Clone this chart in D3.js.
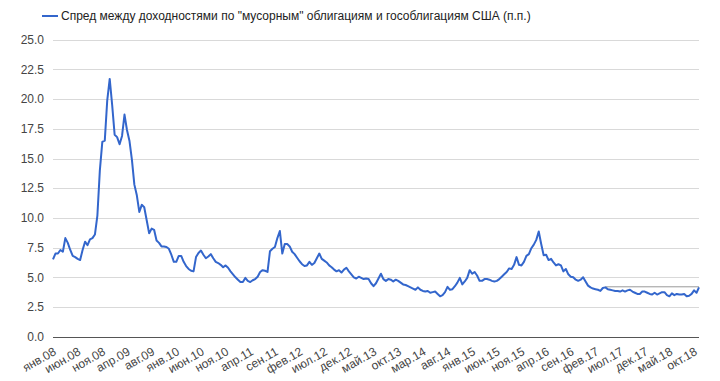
<!DOCTYPE html>
<html>
<head>
<meta charset="utf-8">
<title></title>
<script src="https://d3js.org/d3.v7.min.js"></script>
<style>
  body { margin: 0; background: #fff; }
  text { font-family: Arial, "Liberation Sans", sans-serif; }
</style>
</head>
<body>
<div id="chart"></div>
<script type="text/javascript">
// half-monthly observations, starting January 2008
var spread = [
  6.5, 7.0, 7.0, 7.3, 7.15, 8.3, 7.9, 7.3, 6.8, 6.7,
  6.55, 6.45, 7.3, 8.0, 7.7, 8.2, 8.3, 8.6, 10.2, 14.0,
  16.4, 16.5, 19.9, 21.7, 19.5, 17.0, 16.8, 16.2, 16.9, 18.7,
  17.4, 16.5, 14.9, 12.8, 11.9, 10.5, 11.1, 10.9, 9.8, 8.7,
  9.1, 9.0, 8.1, 7.9, 7.6, 7.6, 7.55, 7.4, 6.9, 6.3,
  6.3, 6.8, 6.8, 6.3, 5.95, 5.7, 5.55, 5.5, 6.7, 7.05,
  7.25, 6.9, 6.6, 6.75, 6.95, 6.6, 6.3, 6.2, 6.05, 5.85,
  6.0, 5.8, 5.5, 5.25, 5.0, 4.8, 4.6, 4.6, 4.95, 4.7,
  4.6, 4.75, 4.85, 5.05, 5.45, 5.6, 5.55, 5.45, 7.2, 7.4,
  7.55, 8.3, 8.9, 7.0, 7.8, 7.8, 7.6, 7.15, 6.95, 6.65,
  6.35, 6.1, 5.95, 6.0, 6.3, 6.05, 6.2, 6.6, 7.0, 6.55,
  6.4, 6.25, 6.0, 5.85, 5.65, 5.5, 5.6, 5.4, 5.65, 5.8,
  5.5, 5.25, 5.0, 4.9, 5.05, 4.95, 4.85, 4.9, 4.85, 4.5,
  4.25, 4.5, 4.9, 5.3, 4.85, 4.7, 4.85, 4.8, 4.65, 4.8,
  4.7, 4.55, 4.4, 4.35, 4.25, 4.15, 4.05, 3.95, 4.15, 3.95,
  3.85, 3.8, 3.85, 3.7, 3.75, 3.8, 3.6, 3.4, 3.5, 3.75,
  4.2, 3.95, 4.0, 4.25, 4.55, 4.95, 4.4, 4.65, 4.95, 5.6,
  5.3, 5.45, 5.15, 4.7, 4.7, 4.85, 4.85, 4.8, 4.7, 4.65,
  4.7, 4.85, 5.05, 5.25, 5.45, 5.75, 5.7, 6.05, 6.7, 6.05,
  6.0, 6.3, 6.8, 6.95, 7.45, 7.75, 8.15, 8.85, 7.8, 6.85,
  6.9, 6.45, 6.55, 6.25, 6.0, 6.1, 6.0, 5.5, 5.7, 5.25,
  5.05, 5.0, 4.8, 4.7, 4.8, 5.0, 4.65, 4.3, 4.15, 4.05,
  4.0, 3.95, 3.85, 4.1, 4.15, 4.0, 3.95, 3.9, 3.85, 3.85,
  3.8, 3.9, 3.8, 3.9, 3.95, 3.8, 3.7, 3.6, 3.6, 3.8,
  3.8, 3.7, 3.6, 3.55, 3.7, 3.55, 3.65, 3.75, 3.75, 3.5,
  3.4, 3.65, 3.5, 3.6, 3.55, 3.55, 3.6, 3.4, 3.45, 3.6,
  3.9, 3.7, 4.15
];

// x labels, one every 10 observations
var tickLabels = ['янв.08','июн.08','ноя.08','апр.09','авг.09','янв.10','июн.10','ноя.10',
  'апр.11','сен.11','фев.12','июл.12','дек.12','май.13','окт.13','мар.14','авг.14',
  'янв.15','июн.15','ноя.15','апр.16','сен.16','фев.17','июл.17','дек.17','май.18','окт.18'];

var yTicks = [0, 2.5, 5, 7.5, 10, 12.5, 15, 17.5, 20, 22.5, 25];

var legendLabel = 'Спред между доходностями по "мусорным" облигациям и гособлигациям США (п.п.)';

// faint grey segment visible at the right end of the reference
var greySegment = {from: 224, to: 262, value: 4.2};

var width = 720, height = 381;
var plotLeft = 53, plotRight = 699, plotTop = 39.7, plotBottom = 336.7;

var svg = d3.select('#chart')
  .append('svg')
    .attr('width', width)
    .attr('height', height);

svg.append('rect').attr('width', width).attr('height', height).attr('fill', '#fff');

var x = d3.scaleLinear().domain([0, spread.length - 1]).range([plotLeft, plotRight]);
var y = d3.scaleLinear().domain([0, 25]).range([plotBottom, plotTop]);

// grid
svg.append('g').selectAll('line')
  .data(yTicks.filter(function(d){ return d > 0; }))
  .enter().append('line')
    .attr('x1', plotLeft).attr('x2', plotRight)
    .attr('y1', function(d){ return Math.round(y(d)) + 0.5; })
    .attr('y2', function(d){ return Math.round(y(d)) + 0.5; })
    .attr('stroke', '#d9d9d9');

svg.append('g').selectAll('text')
  .data(yTicks)
  .enter().append('text')
    .attr('x', 44)
    .attr('y', function(d){ return y(d); })
    .attr('dy', '0.35em')
    .attr('text-anchor', 'end')
    .attr('font-size', 12)
    .attr('fill', '#444')
    .text(function(d){ return d3.format('.1f')(d); });

// x labels
svg.append('g').selectAll('text')
  .data(tickLabels)
  .enter().append('text')
    .attr('transform', function(d, i){ return 'translate(' + (x(i * 10) + 4) + ',354) rotate(-30)'; })
    .attr('text-anchor', 'end')
    .attr('font-size', 12)
    .attr('fill', '#444')
    .text(function(d){ return d; });

svg.append('line')
  .attr('x1', x(greySegment.from))
  .attr('x2', x(greySegment.to))
  .attr('y1', y(greySegment.value)).attr('y2', y(greySegment.value))
  .attr('stroke', '#999').attr('stroke-width', 1);

var line = d3.line()
  .x(function(d, i){ return x(i); })
  .y(function(d){ return y(d); });

svg.append('path')
  .datum(spread)
  .attr('d', line)
  .attr('fill', 'none')
  .attr('stroke', '#3366cc')
  .attr('stroke-width', 2)
  .attr('stroke-linejoin', 'round');

// baseline
svg.append('line')
  .attr('x1', plotLeft).attr('x2', plotRight)
  .attr('y1', Math.round(y(0)) + 0.5).attr('y2', Math.round(y(0)) + 0.5)
  .attr('stroke', '#555');

// legend
var legend = svg.append('g').attr('transform', 'translate(42,16)');
legend.append('line')
  .attr('x1', 0).attr('x2', 16).attr('y1', 0).attr('y2', 0)
  .attr('stroke', '#3366cc').attr('stroke-width', 2);
legend.append('text')
  .attr('x', 19).attr('dy', '0.35em')
  .attr('font-size', 12)
  .attr('fill', '#222')
  .text(legendLabel);
</script>
</body>
</html>
